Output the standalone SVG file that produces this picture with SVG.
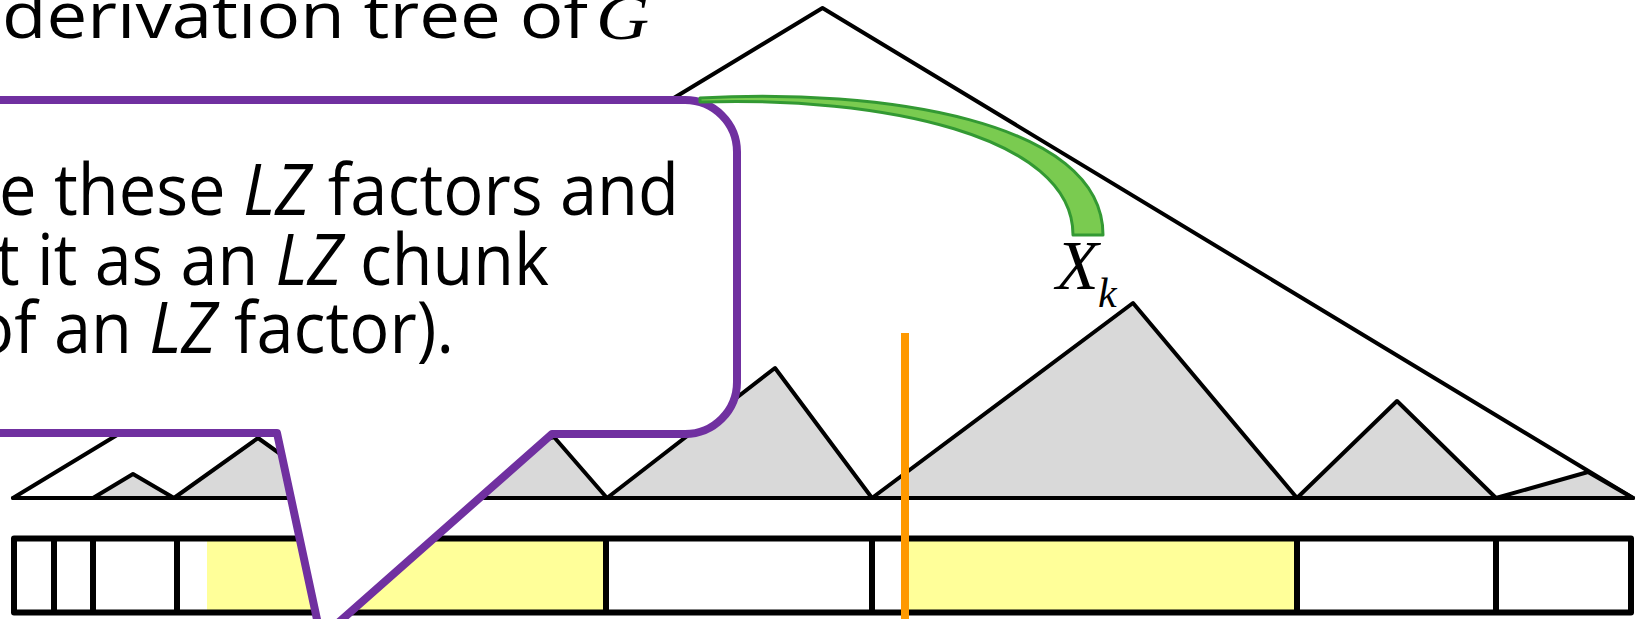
<svg xmlns="http://www.w3.org/2000/svg" width="1643" height="619" viewBox="0 0 1643 619">
<style>
.ln{stroke:#000;stroke-width:4;stroke-linejoin:round;stroke-linecap:round}
.sub{fill:#D9D9D9;stroke:#000;stroke-width:4;stroke-linejoin:round}
.yel{fill:#FFFF99}
.div{stroke:#000;stroke-width:6}
.sans{font-family:"Open Sans","Noto Sans","Liberation Sans",sans-serif;fill:#000}
.math{font-family:"Liberation Serif","DejaVu Serif",serif;font-style:italic;fill:#000}
</style>
<rect width="1643" height="619" fill="#fff"/>
<g id="tree">
<path class="ln" d="M13 498 L822.5 8 L1633 498" fill="none"/>
</g>
<g id="subtrees">
<path class="sub" d="M93 498 L133 474 L174 498 Z"/>
<path class="sub" d="M174 498 L258 438 L342 498 Z"/>
<path class="sub" d="M342 498 L554 437 L607 498 Z"/>
<path class="sub" d="M607 498 L775 368 L872 498 Z"/>
<path class="sub" d="M872 498 L1133 303 L1297 498 Z"/>
<path class="sub" d="M1297 498 L1397 401 L1496 498 Z"/>
<path class="sub" d="M1496 498 L1588 472 L1633 498 Z"/>
<path class="ln" d="M13 498 H1633" fill="none"/>
</g>
<g id="bar">
<rect x="14" y="538.5" width="1617" height="74" fill="#fff"/>
<rect class="yel" x="207" y="538.5" width="399" height="74"/>
<rect class="yel" x="905" y="538.5" width="392" height="74"/>
<line class="div" x1="54" y1="538.5" x2="54" y2="612.5"/>
<line class="div" x1="93" y1="538.5" x2="93" y2="612.5"/>
<line class="div" x1="177" y1="538.5" x2="177" y2="612.5"/>
<line class="div" x1="606" y1="538.5" x2="606" y2="612.5"/>
<line class="div" x1="872" y1="538.5" x2="872" y2="612.5"/>
<line class="div" x1="1297" y1="538.5" x2="1297" y2="612.5"/>
<line class="div" x1="1496" y1="538.5" x2="1496" y2="612.5"/>
<rect x="14" y="538.5" width="1617" height="74" fill="none" stroke="#000" stroke-width="6" stroke-linejoin="round"/>
</g>
<g id="callout">
<path d="M-20 100 H685 A52 52 0 0 1 737 152 V382 A52 52 0 0 1 685 434 H552 L321 638 L277 433 H-20 Z" fill="#fff" stroke="#7030A0" stroke-width="8" stroke-linejoin="round"/>
<text class="sans" font-size="71" text-anchor="end" x="679" y="215" textLength="680" lengthAdjust="spacingAndGlyphs">e these <tspan font-style="italic">LZ</tspan> factors and</text>
<text class="sans" font-size="71" text-anchor="end" x="549" y="285" textLength="553" lengthAdjust="spacingAndGlyphs">t it as an <tspan font-style="italic">LZ</tspan> chunk</text>
<text class="sans" font-size="71" text-anchor="end" x="454" y="353" textLength="480" lengthAdjust="spacingAndGlyphs">of an <tspan font-style="italic">LZ</tspan> factor).</text>
</g>
<g id="connectors">
<path d="M700 98 C880 88 1103 120 1103 235 L1073 235 C1073 135 880 96 700 102 Z" fill="#7ACB50" stroke="#339933" stroke-width="3" stroke-linejoin="round"/>
</g>
<g id="position">
<line x1="905" y1="333" x2="905" y2="619" stroke="#FF9900" stroke-width="8"/>
</g>
<g id="title">
<text class="sans" font-size="64" x="2" y="38" textLength="586" lengthAdjust="spacingAndGlyphs">derivation tree of</text>
<text class="math" font-size="64" transform="translate(596 39) scale(1.15 1)">G</text>
</g>
<g id="label-Xk">
<text class="math" font-size="70" x="1056" y="289">X</text>
<text class="math" font-size="42" x="1098" y="307">k</text>
</g>
</svg>
